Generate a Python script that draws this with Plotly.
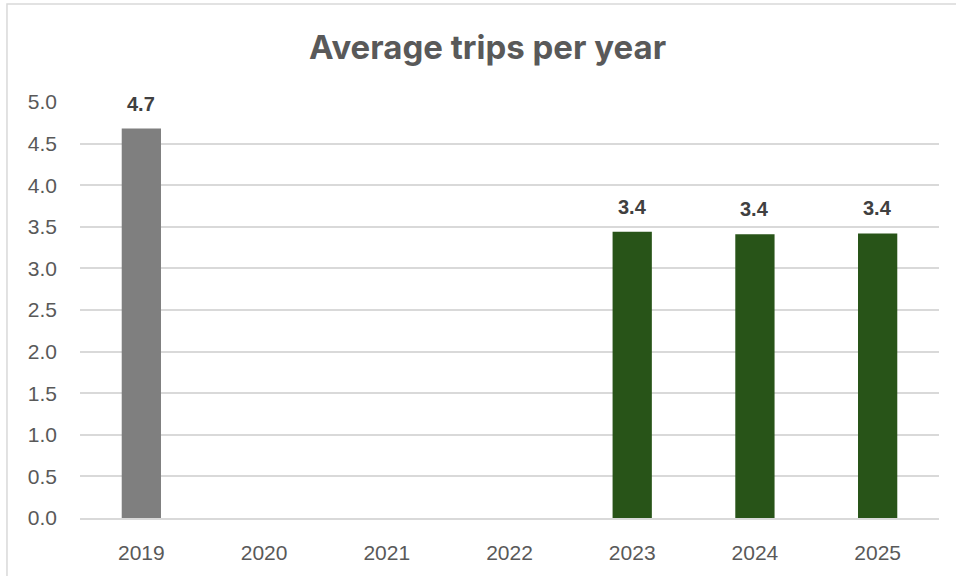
import plotly.graph_objects as go

# Average trips per traveller, by survey year (no survey 2020-2022)
years = ["2019", "2020", "2021", "2022", "2023", "2024", "2025"]
avg_trips = [4.68, None, None, None, 3.44, 3.41, 3.42]
bar_colors = ["#7f7f7f", "#285418", "#285418", "#285418", "#285418", "#285418", "#285418"]

y_ticks = [0.0, 0.5, 1.0, 1.5, 2.0, 2.5, 3.0, 3.5, 4.0, 4.5, 5.0]

fig = go.Figure()
fig.add_trace(go.Bar(
    x=years,
    y=avg_trips,
    marker=dict(color=bar_colors, line=dict(width=0)),
    hoverinfo="x+y",
))

# Value labels above each bar (x given as category index)
for i, v in enumerate(avg_trips):
    if v is None:
        continue
    fig.add_annotation(
        x=i, y=v, text=f"<b>{v:.1f}</b>",
        showarrow=False, yanchor="middle", yshift=25,
        font=dict(family="Liberation Sans, Arial", size=20, color="#404040"),
    )

# Light outer frame around the chart
fig.add_shape(
    type="rect", xref="paper", yref="paper",
    x0=-0.085, x1=1.03, y0=-0.16, y1=1.2356,
    line=dict(color="#d9d9d9", width=1.5), fillcolor="rgba(0,0,0,0)",
    layer="below",
)

fig.update_layout(
    width=956, height=576,
    margin=dict(l=80, r=17, t=102, b=58, autoexpand=False),
    paper_bgcolor="white", plot_bgcolor="white",
    bargap=0.68,
    showlegend=False,
    title=dict(
        text="<b>Average trips per year</b>",
        x=0.51, xanchor="center", y=0.918, yanchor="middle",
        font=dict(family="Inter, Open Sans, sans-serif", size=33, color="#595959"),
    ),
    xaxis=dict(
        type="category", categoryorder="array", categoryarray=years,
        range=[-0.5, len(years) - 0.5], automargin=False,
        showgrid=False, showline=True, linecolor="#d9d9d9", linewidth=1.5,
        ticks="", ticklabelstandoff=15,
        tickfont=dict(family="Liberation Sans, Arial", size=21, color="#595959"),
    ),
    yaxis=dict(
        range=[0, 5.0], tickvals=y_ticks, ticktext=[f"{t:.1f}" for t in y_ticks],
        automargin=False,
        showgrid=True, gridcolor="#d9d9d9", gridwidth=1.5,
        zeroline=False, showline=False, ticks="", ticklabelstandoff=22,
        tickfont=dict(family="Liberation Sans, Arial", size=21, color="#595959"),
    ),
)

fig.write_html("out.html")
